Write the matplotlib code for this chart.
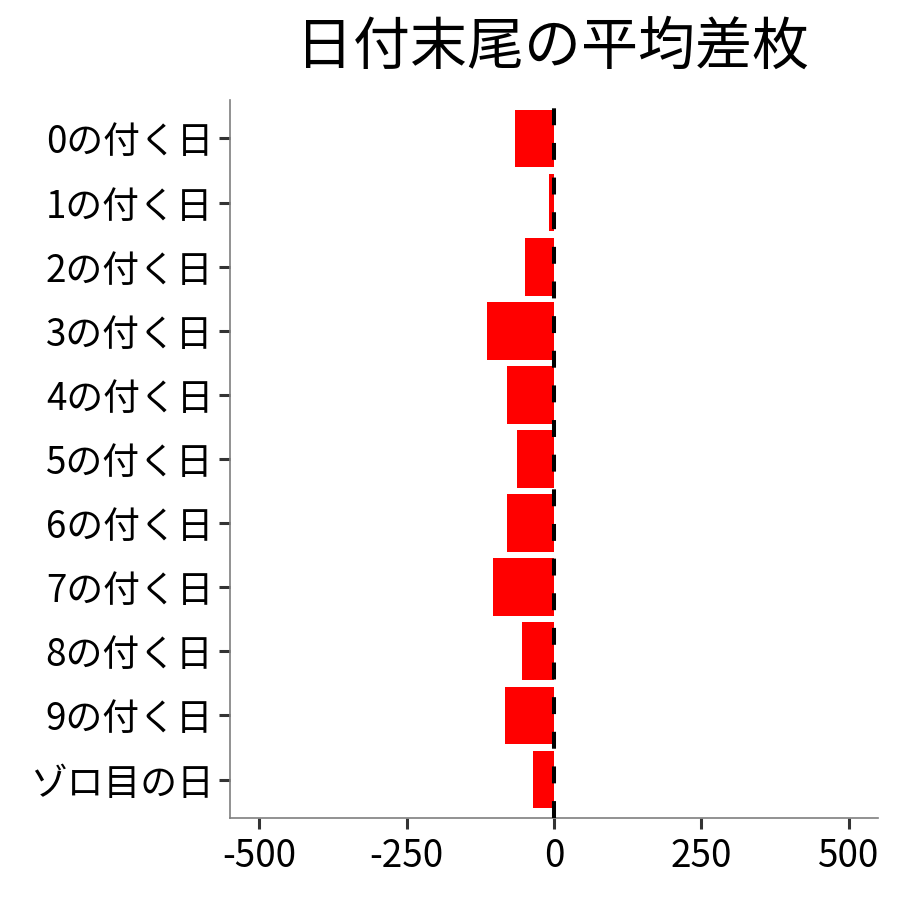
import matplotlib
matplotlib.use("Agg")
import matplotlib.pyplot as plt

plt.rcParams['font.family'] = ['Noto Sans CJK JP', 'DejaVu Sans']

categories = ["0の付く日", "1の付く日", "2の付く日", "3の付く日", "4の付く日",
              "5の付く日", "6の付く日", "7の付く日", "8の付く日", "9の付く日", "ゾロ目の日"]
values = [-67, -9, -50, -114, -80, -62, -79, -104, -55, -84, -35]
xticks = [-500, -250, 0, 250, 500]
xticklabels = ["-500", "-250", "0", "250", "500"]
title = "日付末尾の平均差枚"

fig = plt.figure(figsize=(9, 9), dpi=100)
ax = fig.add_axes([230/900, 1-818/900, (878-230)/900, (818-100)/900])

ypos = list(range(len(categories)))
ax.barh(ypos, values, height=0.9, color="#FF0000", zorder=2)
ax.axvline(0, color="black", lw=2.9, linestyle=(0, (4.2, 4.4)), zorder=3)

ax.set_xlim(-550, 550)
ax.set_ylim(len(categories) - 0.4, -0.6)
ax.set_yticks(ypos)
ax.set_yticklabels(categories)
ax.set_xticks(xticks)
ax.set_xticklabels(xticklabels)

for s in ["top", "right"]:
    ax.spines[s].set_visible(False)
for s in ["left", "bottom"]:
    ax.spines[s].set_color("#7f7f7f")
    ax.spines[s].set_linewidth(1.2)

ax.tick_params(axis="both", length=8, width=2.2, color="#333333",
               labelsize=26.5, labelcolor="black")
ax.tick_params(axis="y", pad=4)
ax.tick_params(axis="x", pad=6)

fig.suptitle(title, x=553/900, y=1-47/900, va="center", fontsize=41)

fig.savefig("out.png", dpi=100, facecolor="white")
